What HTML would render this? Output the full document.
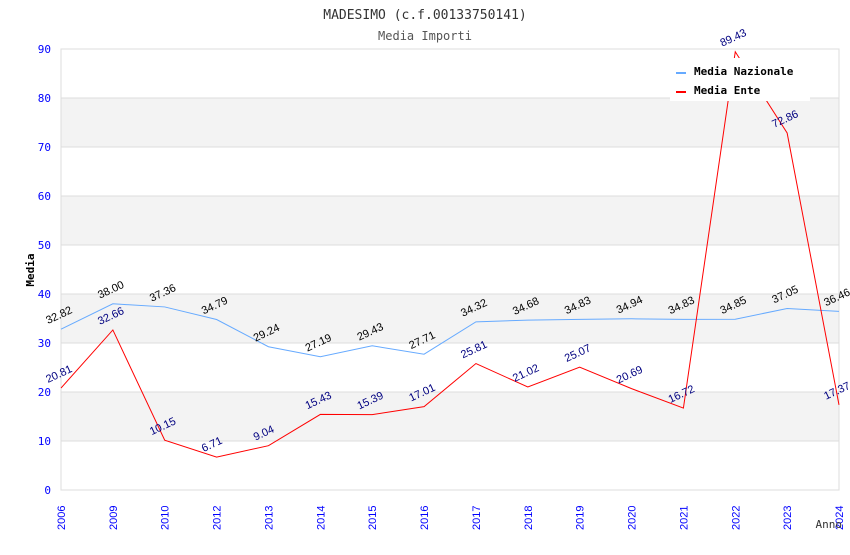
<!DOCTYPE html>
<html><head><meta charset="utf-8"><style>
body{margin:0;background:#fff;width:850px;height:550px;overflow:hidden}
text{font-family:"DejaVu Sans Mono","Liberation Mono",monospace}
text.sans{font-family:"Liberation Sans",sans-serif}
</style></head><body>
<svg id="chart" width="850" height="550"></svg>
<script>
const years=["2006","2009","2010","2012","2013","2014","2015","2016","2017","2018","2019","2020","2021","2022","2023","2024"];
const nazionale=[32.82,38.00,37.36,34.79,29.24,27.19,29.43,27.71,34.32,34.68,34.83,34.94,34.83,34.85,37.05,36.46];
const ente=[20.81,32.66,10.15,6.71,9.04,15.43,15.39,17.01,25.81,21.02,25.07,20.69,16.72,89.43,72.86,17.37];
const yTicks=[0,10,20,30,40,50,60,70,80,90];
const L=61,R=839,T=49,B=490,YMAX=90;
const xs=i=>L+i*(R-L)/(years.length-1);
const ys=v=>B-v/YMAX*(B-T);
const svg=document.getElementById('chart');
const NS='http://www.w3.org/2000/svg';
function mk(tag,attrs,parent){const e=document.createElementNS(NS,tag);for(const k in attrs)e.setAttribute(k,attrs[k]);(parent||svg).appendChild(e);return e;}
for(let i=0;i<yTicks.length-1;i++){
  if(i%2===1){const r=mk('rect',{x:L,y:ys(yTicks[i+1]),width:R-L,height:ys(yTicks[i])-ys(yTicks[i+1]),fill:'#f3f3f3'});
  
  }
}
yTicks.forEach(v=>{
  const g=mk('line',{x1:L,x2:R,y1:ys(v),y2:ys(v),stroke:'#dddddd','stroke-width':1});
  
  
  const t=mk('text',{x:L-10,y:ys(v)+4,'text-anchor':'end','font-size':11,fill:'#0000ff'});
  t.textContent=v;
  
  
});
const fr=mk('rect',{x:L,y:T,width:R-L,height:B-T,fill:'none',stroke:'#dddddd'});


years.forEach((y,i)=>{
  const t=mk('text',{class:'sans',transform:`translate(${xs(i)+4},${B+40}) rotate(-90)`,'font-size':11,fill:'#0000ff'});
  t.textContent=y;
  
  
});
function series(vals,color,labColor,name){
  const p=mk('polyline',{points:vals.map((v,i)=>xs(i)+','+ys(v)).join(' '),fill:'none',stroke:color,'stroke-width':1});
  
  
  vals.forEach((v,i)=>{
    const t=mk('text',{class:'sans',transform:`translate(${xs(i)-13},${ys(v)-5}) rotate(-25)`,'font-size':11,fill:labColor});
    t.textContent=v.toFixed(2);
    
    
  });
}
series(nazionale,'#66aaff','#000000','nazionale');
series(ente,'#ff0000','#000080','ente');
function txt(x,y,s,size,fill,anchor,name,extra){const t=mk('text',Object.assign({x,y,'font-size':size,fill,'text-anchor':anchor},extra||{}));t.textContent=s;return t;}
txt(425,19,'MADESIMO (c.f.00133750141)',13,'#333','middle','chart-title');
txt(425,40,'Media Importi',12,'#555','middle','chart-subtitle');
txt(842,528,'Anno',11,'#333','end','x-axis-title');
const yt=mk('text',{transform:'translate(34,270) rotate(-90)','font-size':11,fill:'#000','text-anchor':'middle','font-weight':'bold'});
yt.textContent='Media';


const lg=mk('g',{});


mk('rect',{x:670,y:58,width:140,height:43,fill:'#fff'},lg);
mk('rect',{x:676,y:72,width:10,height:2,fill:'#66aaff'},lg);
mk('rect',{x:676,y:91,width:10,height:2,fill:'#ff0000'},lg);
const l1=txt(694,75,'Media Nazionale',11,'#000','start','legend-entry-nazionale',{'font-weight':'bold'});lg.appendChild(l1);
const l2=txt(694,94,'Media Ente',11,'#000','start','legend-entry-ente',{'font-weight':'bold'});lg.appendChild(l2);
</script>
</body></html>
